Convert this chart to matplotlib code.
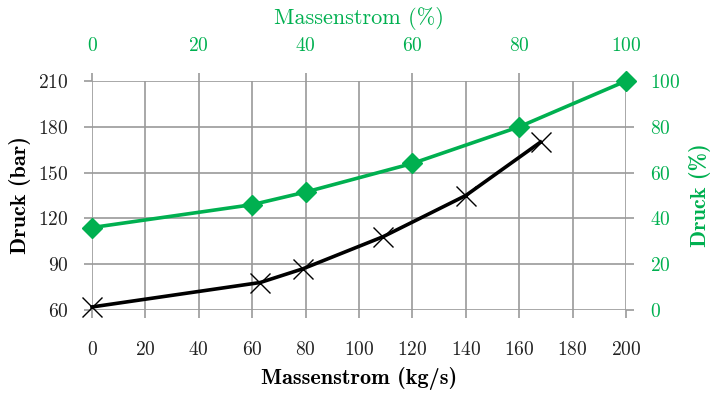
import matplotlib
matplotlib.use("Agg")
import matplotlib.pyplot as plt

plt.rcParams['font.family'] = ['cmr10', 'DejaVu Serif']
plt.rcParams['mathtext.fontset'] = 'cm'
plt.rcParams['axes.formatter.use_mathtext'] = True

gruen = '#00B050'
grau = '#9a9a9a'

# Druck in bar ueber Massenstrom in kg/s
massenstrom_bar = [0, 63, 79, 109, 140, 168]
druck_bar = [62, 78, 87, 108, 135, 170]

# Druck in % ueber Massenstrom in kg/s
massenstrom_proz = [0, 60, 80, 120, 160, 200]
druck_proz = [36, 46, 51.5, 64, 80, 100]

x_ticks = [0, 20, 40, 60, 80, 100, 120, 140, 160, 180, 200]
y_ticks = [60, 90, 120, 150, 180, 210]
proz_ticks = [0, 20, 40, 60, 80, 100]

fig = plt.figure(figsize=(7.11, 3.94), dpi=100)
l, r, t, b = 92, 626, 81, 310
ax = fig.add_axes([l/711, 1-b/394, (r-l)/711, (b-t)/394])
bw, bh = r - l, b - t

ax.set_xlim(0, 200)
ax.set_ylim(60, 210)
ax.set_xticks(x_ticks)
ax.set_yticks(y_ticks)
ax.grid(True, color=grau, linewidth=1.2)
ax.tick_params(axis='x', colors=grau, labelcolor='#222222', length=6,
               width=1.2, labelsize=14, pad=16)
ax.tick_params(axis='y', colors=grau, labelcolor='#222222', length=6,
               width=1.2, labelsize=14, pad=11)
for s in ax.spines.values():
    s.set_visible(False)

ax.plot(massenstrom_bar, druck_bar, color='black', linewidth=2.6,
        marker='x', markersize=14, markeredgewidth=1.0, zorder=3, clip_on=False)
ax.set_xlabel('Massenstrom (kg/s)', fontname='cmb10', fontsize=16, color='black')
ax.xaxis.set_label_coords(0.5, (b - 378)/bh)
ax.xaxis.label.set_va('center')
ax.set_ylabel('Druck (bar)', fontname='cmb10', fontsize=16, color='black')
ax.yaxis.set_label_coords((20 - l)/bw, 0.5)
ax.yaxis.label.set_va('center')

ax2 = ax.twinx()
ax2.set_ylim(0, 100)
ax2.set_yticks(proz_ticks)
ax2.tick_params(colors=grau, labelcolor=gruen, length=6, width=1.2,
                labelsize=14, pad=11)
for s in ax2.spines.values():
    s.set_visible(False)
ax2.plot(massenstrom_proz, druck_proz, color=gruen, linewidth=2.6,
         marker='D', markersize=10, zorder=3, clip_on=False)
ax2.set_ylabel('Druck (%)', fontname='cmb10', fontsize=16, color=gruen)
ax2.yaxis.set_label_coords((700 - l)/bw, 0.5)
ax2.yaxis.label.set_va('center')

ax3 = ax.secondary_xaxis('top', functions=(lambda x: x/2, lambda x: x*2))
ax3.set_xticks(proz_ticks)
ax3.tick_params(colors=grau, labelcolor=gruen, length=6, width=1.2,
                labelsize=14, pad=13)
ax3.spines['top'].set_visible(False)
ax3.set_xlabel('Massenstrom (%)', fontsize=16, color=gruen)
ax3.xaxis.set_label_coords(0.5, (b - 18)/bh, transform=ax.transAxes)
ax3.xaxis.label.set_va('center')

fig.savefig('out.png', dpi=100)
